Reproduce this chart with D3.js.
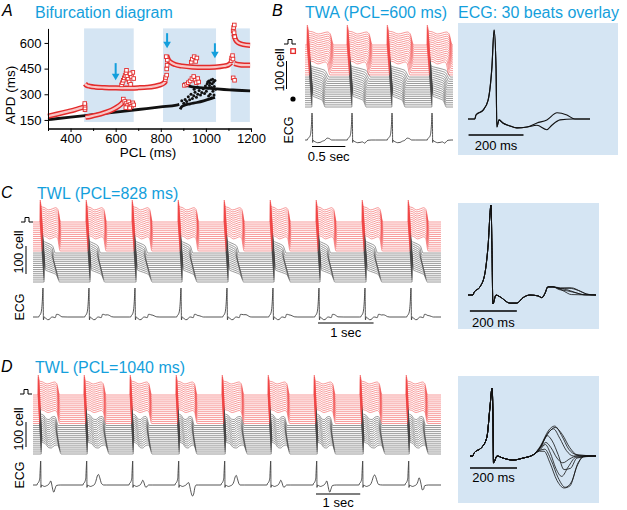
<!DOCTYPE html>
<html>
<head>
<meta charset="utf-8">
<script src="https://cdn.jsdelivr.net/npm/d3@7"></script>
<style>
  body { margin: 0; background: #fff; }
  text { font-family: "Liberation Sans", Arial, sans-serif; }
</style>
</head>
<body>
<script>
// ---------------- panel A : bifurcation diagram (PCL ms, APD ms) ----------------
var shadeRanges = [[460, 680], [810, 1045], [1110, 1195]];
var arrowMarks = [[600, 482, 382], [828, 657, 569], [1040, 598, 511]];   // pcl, apd from, apd to
var xTicksA = [400, 600, 800, 1000, 1200],
    xMinorA = [300, 500, 700, 900, 1100],
    yTicksA = [150, 300, 450, 600];

var redBranch1 = [[300,172],[340,184],[380,197],[420,210],[464,228]];
var redBranch2 = [[464,362],[472,352],[485,347],[510,342],[550,339],[600,337],[650,336],[700,338],[740,341],[770,346],[795,354],[812,364],[822,378]];
var redBranch3 = [[466,166],[490,171],[520,180],[550,192],[580,206],[605,224],[625,244],[638,262]];
var redBranch4 = [[826,528],[834,500],[846,485],[865,473],[895,465],[940,459],[990,457],[1040,459],[1080,465],[1100,472],[1112,486]];
var redBranch5 = [[1126,480],[1145,473],[1170,470],[1196,470]];
var redBranch6 = [[1124,650],[1132,618],[1145,600],[1165,591],[1196,586]];
var redScatter = [
  [464,210],[464,220],[464,236],[463,246],
  [626,355],[630,368],[634,382],[638,396],[642,410],[646,424],[650,404],[655,388],[660,372],[666,358],[670,404],[676,428],[680,392],[664,420],[648,440],
  [634,272],[640,258],[646,246],[652,234],[658,256],[664,240],[670,230],[676,250],[680,238],[662,220],[645,222],
  [820,386],[822,398],[826,412],[826,448],[828,470],[829,500],[824,520],
  [905,352],[915,358],[922,368],[930,378],[938,392],[946,404],[952,382],[958,368],[964,392],[968,372],
  [935,488],[940,505],[948,520],[955,492],[960,512],
  [1112,496],[1114,512],[1118,526],[1120,506],[1121,670],[1123,690],[1125,660],[1128,636],[1126,705],[1121,396],[1127,382]
];
var blackLine1 = [[300,152],[400,166],[500,181],[600,196],[700,211],[800,226],[870,237],[882,241]];
var blackLine2 = [[886,212],[892,226],[905,236],[930,244],[960,252],[990,262],[1015,272],[1040,282]];
var blackLine3 = [[898,364],[910,354],[930,346],[960,340],[1000,336],[1040,332],[1080,328],[1120,325],[1160,322],[1196,320]];
var blackScatter = [
  [893,262],[902,248],[908,270],[915,258],[922,286],[928,268],[934,300],[940,276],[946,292],[952,312],
  [958,282],[964,300],[970,322],[976,296],[982,310],[988,332],[994,305],[998,348],[1002,318],[1006,362],
  [1010,336],[1013,378],[1016,352],[1019,300],[1022,384],[1025,340],[1028,362],[1031,318],[1034,372],[1037,346],
  [1040,380],[1043,330],[1012,290],[1024,278],[1036,296],[1008,372],[1030,388],[1018,366],[948,330],[962,342]
];

// ---------------- cable traces (B, C, D) ----------------
// conduction delay of each plotted row (ms), top row first
var rowDelay = [0,3,5,8,10,13,15,18,20,23,25,28,30,33,35,38,40,43,45,48,50,53,55,58,60,63,65,68,70,73];
// action potential shapes: [fraction of APD, fraction of spike height]
var redShape   = [[0,0],[0.01,1],[0.05,0.7],[0.2,0.66],[0.42,0.55],[0.6,0.6],[0.76,0.65],[0.87,0.56],[0.95,0.14],[1,0]];
var slopeShape = [[0,0],[0.015,1],[0.07,0.56],[0.3,0.48],[0.6,0.4],[0.8,0.32],[0.92,0.12],[1,0]];
var notchShape = [[0,0],[0.012,1],[0.04,0.6],[0.2,0.52],[0.38,0.32],[0.5,0.3],[0.66,0.42],[0.8,0.45],[0.9,0.3],[0.96,0.08],[1,0]];

var bBeats = [30, 630, 1230, 1830];
var bRedApd   = [400,400,398,396,394,390,386,382,376,370,362,352,340,326,310];
var bBlackApd = [292,276,262,250,240,232,226,220,216,212,208,205,202,200,198];
var bRedScale = [1, 0.95, 1, 0.95], bBlackScale = [1, 1.08, 1, 1.08];

var cBeats = [126, 954, 1782, 2610, 3438, 4266, 5094, 5922, 6750];
var cRedApd   = [372,372,371,370,369,368,366,364,361,358,354,349,343,336,328];
var cBlackApd = [236,218,208,204,206,212,220,228,236,244,252,260,266,272,278];
var cRedScale = [1,1,0.99,1.01,1,1,0.99,1.01,1], cBlackScale = [1,0.94,1.04,0.97,1,1.06,0.95,1.02,0.98];

var dBeats = [113, 1153, 2193, 3233, 4273, 5313, 6353, 7393, 8433];
var dRedApd   = [490,490,489,488,487,486,484,482,480,477,474,470,466,461,455];
var dBlackApd = [440,430,424,420,420,422,426,430,436,442,448,454,460,466,472];
var dRedScale = [1,1.02,1,0.98,1.02,1,0.99,1.02,1], dBlackScale = [0.95,1.05,0.9,0.85,1.06,0.9,0.88,1.05,0.92];

// ---------------- ECG beats: [ms, spike-normalised amplitude] ----------------
var bQrs = [[0,0],[25,0],[29,0.045],[55,0.1],[73,0.21],[87,0.58],[95,1],[102,0.58],[105,-0.09],[113,-0.01],[127,-0.045],[150,-0.075],[178,-0.1],[215,-0.09]];
var bTails = [
  [[251,-0.045],[287,-0.01],[324,0.07],[360,0.045],[389,0],[444,0]],
  [[251,-0.07],[287,-0.12],[305,-0.07],[335,-0.01],[382,0],[444,0]]
];
var bEcgSeq = [0, 1, 0, 1];

var cQrs = [[0,0],[21,0],[26,0.03],[51,0.09],[72,0.24],[85,0.53],[98,1],[102,0.53],[106,-0.1],[119,0],[136,-0.02],[179,-0.09],[208,-0.09],[234,-0.03],[264,0],[298,-0.01],[315,-0.03],[328,0.02],[340,0.09],[362,0.09]];
var cTails = [
  [[380,0.08],[410,0.04],[440,0.005],[545,0]],
  [[385,0.075],[420,0.06],[455,0.03],[490,0.005],[545,0]],
  [[392,0.07],[430,0.075],[470,0.05],[505,0.01],[545,0]],
  [[388,0.06],[425,0.045],[465,0.02],[500,0],[545,0]],
  [[395,0.08],[440,0.08],[480,0.04],[515,0.005],[545,0]]
];
var cEcgSeq = [0, 2, 1, 3, 4, 1, 0, 2, 3];

var dQrs = [[0,0],[12,0],[17,0.044],[51,0.13],[72,0.28],[85,0.72],[94,1],[98,0.49],[100,-0.1],[115,0],[140,-0.03],[183,-0.06],[226,-0.03],[268,0.015]];
var dTails = [
  [[300,0.15],[335,0.38],[360,0.44],[390,0.3],[420,0.1],[450,0.02],[480,0],[536,0]],
  [[300,0.13],[330,0.33],[355,0.4],[382,0.26],[410,0.08],[440,0],[536,0]],
  [[300,0.12],[322,0.2],[345,0.12],[370,-0.03],[395,-0.1],[425,-0.04],[455,0],[536,0]],
  [[300,0.1],[320,0.17],[342,0.04],[365,-0.18],[390,-0.3],[418,-0.16],[450,-0.02],[536,0]],
  [[295,0.08],[318,0.1],[345,-0.06],[375,-0.32],[405,-0.46],[432,-0.38],[460,-0.1],[492,0],[536,0]],
  [[295,0.07],[315,0.07],[340,-0.1],[370,-0.36],[400,-0.47],[425,-0.44],[455,-0.15],[485,0],[536,0]],
  [[300,0.13],[328,0.3],[350,0.22],[375,0.02],[400,-0.2],[428,-0.18],[455,-0.03],[536,0]],
  [[300,0.14],[338,0.36],[362,0.42],[392,0.32],[425,0.12],[455,0.02],[536,0]]
];
var dEcgSeq = [3, 0, 2, 4, 1, 2, 3, 7, 6];

// ---------------- styles ----------------
var cyan = "#149fdc", shade = "#d5e5f3", bandRed = "#e32b2b",
    traceRed = "#f04444", traceBlack = "#444";

var svg = d3.select("body").append("svg")
    .attr("width", 627)
    .attr("height", 510);
var defs = svg.append("defs");

function txt(x, y, s, size, opts) {
  opts = opts || {};
  var t = svg.append("text").attr("x", x).attr("y", y).text(s)
      .attr("font-size", size)
      .attr("fill", opts.fill || "#000")
      .attr("text-anchor", opts.anchor || "start");
  if (opts.italic) t.attr("font-style", "italic");
  if (opts.rotate) {
    t.attr("transform", "rotate(-90," + x + "," + y + ")").attr("dominant-baseline", "central");
  }
  return t;
}

// ---------------- panel A ----------------
var xA = d3.scaleLinear().domain([300, 1200]).range([48, 251]),
    yA = d3.scaleLinear().domain([100, 685]).range([128.5, 28.4]);
var gA = svg.append("g");

gA.selectAll(".shade").data(shadeRanges).enter().append("rect")
    .attr("x", function(d) { return xA(d[0]); })
    .attr("y", yA(685))
    .attr("width", function(d) { return xA(d[1]) - xA(d[0]); })
    .attr("height", yA(138) - yA(685))
    .attr("fill", shade);

var lineA = d3.line()
    .x(function(d) { return xA(d[0]); })
    .y(function(d) { return yA(d[1]); })
    .curve(d3.curveMonotoneX);

var redBranches = [redBranch1, redBranch2, redBranch3, redBranch4, redBranch5, redBranch6];

gA.selectAll(".black-line").data([blackLine1, blackLine2, blackLine3]).enter().append("path")
    .attr("d", lineA).attr("fill", "none").attr("stroke", "#111").attr("stroke-width", 2.8);

gA.selectAll(".red-band").data(redBranches).enter().append("path")
    .attr("d", lineA).attr("fill", "none").attr("stroke", bandRed).attr("stroke-width", 5.2);
gA.selectAll(".red-core").data(redBranches).enter().append("path")
    .attr("d", lineA).attr("fill", "none").attr("stroke", "#f8c6c6").attr("stroke-width", 2.2);

gA.selectAll(".sq").data(redScatter).enter().append("rect")
    .attr("x", function(d) { return xA(d[0]) - 1.8; })
    .attr("y", function(d) { return yA(d[1]) - 1.8; })
    .attr("width", 3.6).attr("height", 3.6)
    .attr("fill", "#fff").attr("stroke", bandRed).attr("stroke-width", 0.9);

gA.selectAll(".dot").data(blackScatter).enter().append("circle")
    .attr("cx", function(d) { return xA(d[0]); })
    .attr("cy", function(d) { return yA(d[1]); })
    .attr("r", 1.5).attr("fill", "#111");

arrowMarks.forEach(function(a) {
  var x = xA(a[0]), y1 = yA(a[1]), y2 = yA(a[2]);
  gA.append("line").attr("x1", x).attr("x2", x).attr("y1", y1).attr("y2", y2 - 5)
      .attr("stroke", cyan).attr("stroke-width", 2);
  gA.append("path").attr("d", "M" + (x - 3.8) + "," + (y2 - 6.5) + "L" + (x + 3.8) + "," + (y2 - 6.5) + "L" + x + "," + y2 + "Z")
      .attr("fill", cyan);
});

// axes
gA.append("g").attr("transform", "translate(0," + yA(100) + ")")
    .call(d3.axisBottom(xA).tickValues(xMinorA).tickSize(2.5).tickSizeOuter(0).tickFormat(""));
gA.append("g").attr("transform", "translate(0," + yA(100) + ")")
    .call(d3.axisBottom(xA).tickValues(xTicksA).tickSize(3.5).tickSizeOuter(0).tickPadding(2)
        .tickFormat(d3.format("d")))
    .attr("font-size", 13);
gA.append("g").attr("transform", "translate(" + xA(300) + ",0)")
    .call(d3.axisLeft(yA).tickValues(yTicksA).tickSize(3.5).tickSizeOuter(0).tickPadding(3))
    .attr("font-size", 13);

txt(148, 157, "PCL (ms)", 13.5, {anchor: "middle"});
txt(10, 95, "APD (ms)", 13.5, {anchor: "middle", rotate: true});

// ---------------- stacked traces ----------------
function drawStack(p) {
  defs.append("clipPath").attr("id", p.clip).append("rect")
      .attr("x", p.x.range()[0]).attr("y", p.rowY(0) - 40)
      .attr("width", p.x.range()[1] - p.x.range()[0]).attr("height", 120);
  var g = svg.append("g").attr("clip-path", "url(#" + p.clip + ")");
  var line = d3.line()
      .x(function(d) { return p.x(d[0]); })
      .y(function(d) { return d[1]; })
      .curve(d3.curveMonotoneX);
  var nRed = p.redApd.length;
  // black rows first so the red spikes sit on top
  d3.range(rowDelay.length).reverse().forEach(function(i) {
    var isRed = i < nRed,
        apd = isRed ? p.redApd[i] : p.blackApd[i - nRed],
        shape = isRed ? redShape : p.blackShape,
        scale = isRed ? p.redScale : p.blackScale,
        y0 = p.rowY(i),
        pts = [[0, y0]];
    p.beats.forEach(function(t0, k) {
      shape.forEach(function(s) {
        pts.push([t0 + rowDelay[i] + s[0] * apd * scale[k], y0 - s[1] * p.amp]);
      });
    });
    pts.push([p.x.domain()[1] + 600, y0]);
    g.append("path").attr("d", line(pts))
        .attr("fill", "none")
        .attr("stroke", isRed ? traceRed : traceBlack)
        .attr("stroke-width", 0.55);
  });

  // ECG below the stack
  var yE = d3.scaleLinear().domain([0, 1]).range([p.ecgBase, p.ecgBase - p.ecgAmp]);
  var ecg = [[0, 0]];
  p.beats.forEach(function(t0, k) {
    p.qrs.concat(p.tails[p.seq[k]]).forEach(function(d) {
      ecg.push([t0 + p.lead + d[0], d[1]]);
    });
  });
  ecg.push([p.x.domain()[1] + 600, 0]);
  var eLine = d3.line()
      .x(function(d) { return p.x(d[0]); })
      .y(function(d) { return yE(d[1]); })
      .curve(d3.curveMonotoneX);
  defs.append("clipPath").attr("id", p.clip + "e").append("rect")
      .attr("x", p.x.range()[0]).attr("y", p.ecgBase - 40)
      .attr("width", p.x.range()[1] - p.x.range()[0]).attr("height", 60);
  svg.append("path").attr("clip-path", "url(#" + p.clip + "e)")
      .attr("d", eLine(ecg)).attr("fill", "none")
      .attr("stroke", "#2a2a2a").attr("stroke-width", 0.8);

  // time scale bar
  svg.append("line")
      .attr("x1", p.x(p.bar[0])).attr("x2", p.x(p.bar[1]))
      .attr("y1", p.barY).attr("y2", p.barY)
      .attr("stroke", "#000").attr("stroke-width", 1.2);
  txt((p.x(p.bar[0]) + p.x(p.bar[1])) / 2, p.barY + p.labelDy, p.barLabel, 13, {anchor: "middle"});
}

function drawOverlay(p) {
  svg.append("rect").attr("x", p.box[0]).attr("y", p.box[1])
      .attr("width", p.box[2] - p.box[0]).attr("height", p.box[3] - p.box[1])
      .attr("fill", shade);
  var y = d3.scaleLinear().domain([0, 1]).range([p.base, p.peak]);
  var line = d3.line()
      .x(function(d) { return p.x(d[0]); })
      .y(function(d) { return y(d[1]); })
      .curve(d3.curveMonotoneX);
  p.tails.forEach(function(tail) {
    svg.append("path").attr("d", line(p.qrs.concat(tail)))
        .attr("fill", "none").attr("stroke", "#111").attr("stroke-width", p.width);
  });
  svg.append("line")
      .attr("x1", p.x(p.bar[0])).attr("x2", p.x(p.bar[1]))
      .attr("y1", p.barY).attr("y2", p.barY)
      .attr("stroke", "#000").attr("stroke-width", 1.5);
  txt((p.x(p.bar[0]) + p.x(p.bar[1])) / 2, p.barY + p.labelDy, "200 ms", 13, {anchor: "middle"});
}

function cellLegend(pulse, textX, textY, barX, barY) {
  svg.append("path")
      .attr("d", "M" + pulse[0] + "," + pulse[1] + "h4v-4.5h4v4.5h4")
      .attr("fill", "none").attr("stroke", "#000").attr("stroke-width", 1);
  txt(textX, textY, "100 cell", 12.5, {anchor: "middle", rotate: true});
  svg.append("line").attr("x1", barX).attr("x2", barX).attr("y1", barY[0]).attr("y2", barY[1])
      .attr("stroke", "#000").attr("stroke-width", 1);
}

// panel B
drawStack({
  clip: "clipB",
  x: d3.scaleLinear().domain([0, 2220]).range([305, 453]),
  rowY: d3.scaleLinear().domain([0, 29]).range([45, 107]),
  amp: 20, beats: bBeats,
  redApd: bRedApd, blackApd: bBlackApd, redScale: bRedScale, blackScale: bBlackScale,
  blackShape: slopeShape,
  qrs: bQrs, tails: bTails, seq: bEcgSeq, lead: -20, ecgBase: 140, ecgAmp: 27,
  bar: [105, 605], barY: 146.5, labelDy: 14.5, barLabel: "0.5 sec"
});
drawOverlay({
  box: [458, 23, 618, 155],
  x: d3.scaleLinear().domain([0, 444]).range([468, 590]),
  base: 119, peak: 30, qrs: bQrs, tails: bTails, width: 1.1,
  bar: [2, 202], barY: 135, labelDy: 15
});
cellLegend([284, 44], 280, 70, 286.5, [61, 89]);
svg.append("rect").attr("x", 290.8).attr("y", 48.8).attr("width", 4.6).attr("height", 4.6)
    .attr("fill", "#fff").attr("stroke", bandRed).attr("stroke-width", 1.3);
svg.append("circle").attr("cx", 293).attr("cy", 99).attr("r", 2.6).attr("fill", "#000");
txt(289, 130, "ECG", 12.5, {anchor: "middle", rotate: true});

// panel C
drawStack({
  clip: "clipC",
  x: d3.scaleLinear().domain([0, 7344]).range([33, 441]),
  rowY: d3.scaleLinear().domain([0, 29]).range([222, 282]),
  amp: 22, beats: cBeats,
  redApd: cRedApd, blackApd: cBlackApd, redScale: cRedScale, blackScale: cBlackScale,
  blackShape: slopeShape,
  qrs: cQrs, tails: cTails, seq: cEcgSeq, lead: -44, ecgBase: 317, ecgAmp: 29,
  bar: [5130, 6130], barY: 323, labelDy: 13.5, barLabel: "1 sec"
});
drawOverlay({
  box: [458, 203, 599, 329],
  x: d3.scaleLinear().domain([0, 545]).range([468, 596]),
  base: 295, peak: 205, qrs: cQrs, tails: cTails, width: 0.8,
  bar: [8, 208], barY: 311, labelDy: 15.5
});
cellLegend([21, 222], 19, 252, 26, [246, 274]);
txt(20, 307, "ECG", 12.5, {anchor: "middle", rotate: true});

// panel D
drawStack({
  clip: "clipD",
  x: d3.scaleLinear().domain([0, 9224]).range([33, 441]),
  rowY: d3.scaleLinear().domain([0, 29]).range([395, 454]),
  amp: 20, beats: dBeats,
  redApd: dRedApd, blackApd: dBlackApd, redScale: dRedScale, blackScale: dBlackScale,
  blackShape: notchShape,
  qrs: dQrs, tails: dTails, seq: dEcgSeq, lead: -33, ecgBase: 485, ecgAmp: 24,
  bar: [6398, 7398], barY: 494, labelDy: 12.5, barLabel: "1 sec"
});
drawOverlay({
  box: [458, 376, 599, 503],
  x: d3.scaleLinear().domain([0, 536]).range([470, 596]),
  base: 456, peak: 388, qrs: dQrs, tails: dTails, width: 0.8,
  bar: [0, 200], barY: 468, labelDy: 14
});
cellLegend([20, 394], 19, 429, 26, [422, 447]);
txt(20, 475, "ECG", 12.5, {anchor: "middle", rotate: true});

// ---------------- panel letters and titles ----------------
txt(2, 16, "A", 16, {italic: true});
txt(272, 16, "B", 16, {italic: true});
txt(1, 198, "C", 16, {italic: true});
txt(1, 372, "D", 16, {italic: true});
txt(35, 18, "Bifurcation diagram", 16, {fill: cyan});
txt(305, 18, "TWA (PCL=600 ms)", 16, {fill: cyan});
txt(458, 18, "ECG: 30 beats overlay", 16, {fill: cyan});
txt(37, 199, "TWL (PCL=828 ms)", 16, {fill: cyan});
txt(35, 373, "TWL (PCL=1040 ms)", 16, {fill: cyan});
</script>
</body>
</html>
